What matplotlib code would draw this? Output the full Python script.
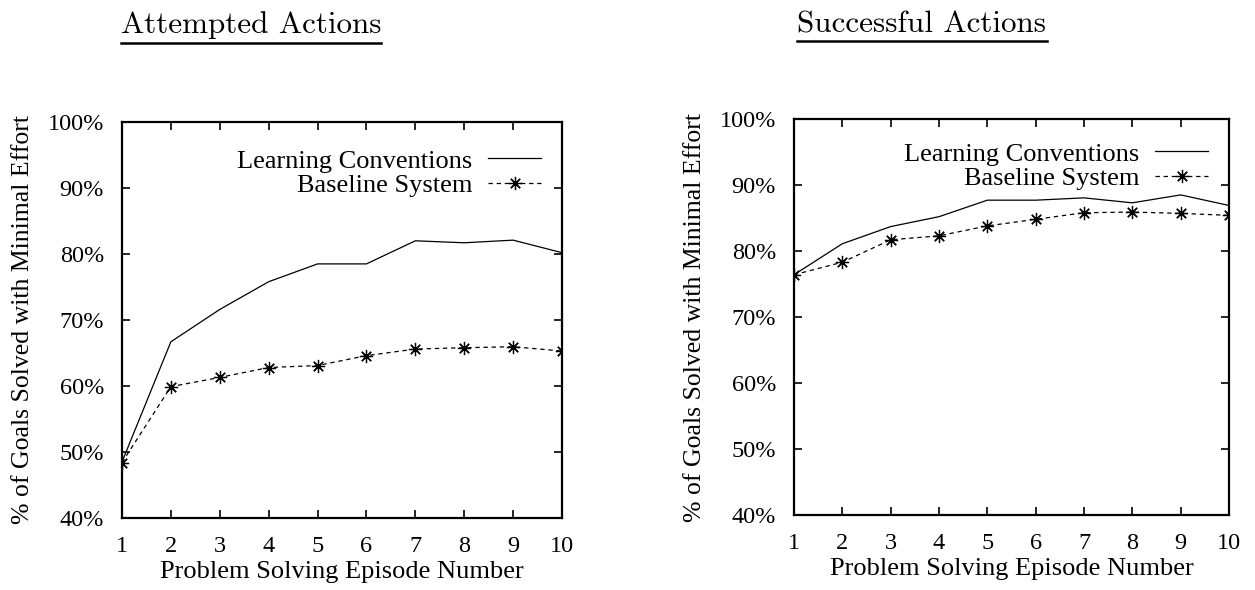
import matplotlib
matplotlib.use("Agg")
import matplotlib.pyplot as plt
from matplotlib.lines import Line2D
from matplotlib.ticker import FuncFormatter

# ---- data ----
episodes = [1, 2, 3, 4, 5, 6, 7, 8, 9, 10]
attempted_learning = [48.5, 66.7, 71.6, 75.8, 78.5, 78.5, 82.0, 81.7, 82.1, 80.2]
attempted_baseline = [48.4, 59.9, 61.3, 62.8, 63.1, 64.6, 65.6, 65.8, 65.95, 65.3]
successful_learning = [76.4, 81.1, 83.7, 85.2, 87.7, 87.7, 88.05, 87.3, 88.5, 86.9]
successful_baseline = [76.4, 78.3, 81.7, 82.3, 83.8, 84.8, 85.8, 85.9, 85.7, 85.4]
y_ticks = [40, 50, 60, 70, 80, 90, 100]
titles = ["Attempted Actions", "Successful Actions"]
series_names = ["Learning Conventions", "Baseline System"]

plt.rcParams["font.family"] = ["Liberation Serif", "DejaVu Serif"]

W, H = 1255, 590
fig = plt.figure(figsize=(W / 100, H / 100), dpi=100)

# axes boxes in pixels: (left, top, right, bottom)
boxes = [(122, 122, 562, 518), (794, 119, 1229, 515)]
data = [(attempted_learning, attempted_baseline), (successful_learning, successful_baseline)]
title_cx = [251, 922]
title_cy = [25, 24.5]
underline_y = [42.5, 41]
leg_anchor = [(1.0, 0.985), (1.0, 0.995)]

for i, (l, t, r, b) in enumerate(boxes):
    ax = fig.add_axes([l / W, 1 - b / H, (r - l) / W, (b - t) / H])
    learn, base = data[i]
    ax.plot(episodes, learn, "-", c="black", lw=0.9, label=series_names[0])
    ax.plot(episodes, base, c="black", lw=0.9, ls=(0, (3.5, 3)),
            marker=(8, 2, 0), ms=9.5, mew=0.9, label=series_names[1])
    ax.set_xlim(1, 10)
    ax.set_ylim(40, 100)
    ax.set_xticks(episodes)
    ax.set_yticks(y_ticks)
    ax.yaxis.set_major_formatter(FuncFormatter(lambda v, p: f"{v:.0f}%"))
    ax.tick_params(direction="in", length=6, width=1.2, top=True, right=True,
                   labelsize=17.5, colors="black")
    ax.tick_params(axis="y", pad=13)
    ax.tick_params(axis="x", pad=13)
    for s in ax.spines.values():
        s.set_linewidth(1.6)
    ax.set_xlabel("Problem Solving Episode Number", fontsize=19)
    ax.set_ylabel("% of Goals Solved with Minimal Effort", fontsize=18.5)
    ax.xaxis.set_label_coords(0.5, -43 / (b - t))
    ax.yaxis.set_label_coords(-88 / (r - l), 0.5)
    ax.legend(loc="upper right", bbox_to_anchor=leg_anchor[i], frameon=False,
              markerfirst=False, fontsize=19, handlelength=2.0, handletextpad=0.6,
              labelspacing=0.05, borderaxespad=0.4, numpoints=1)

    # title with underline, gnuplot/LaTeX style
    txt = fig.text(title_cx[i] / W, 1 - title_cy[i] / H, titles[i], family="cmr10",
                   fontsize=22.4, ha="center", va="center")
    fig.canvas.draw()
    bb = txt.get_window_extent(fig.canvas.get_renderer())
    uy = 1 - underline_y[i] / H
    fig.add_artist(Line2D([bb.x0 / W, bb.x1 / W], [uy, uy], c="black", lw=1.8,
                          transform=fig.transFigure))

fig.savefig("out.png", dpi=100)
